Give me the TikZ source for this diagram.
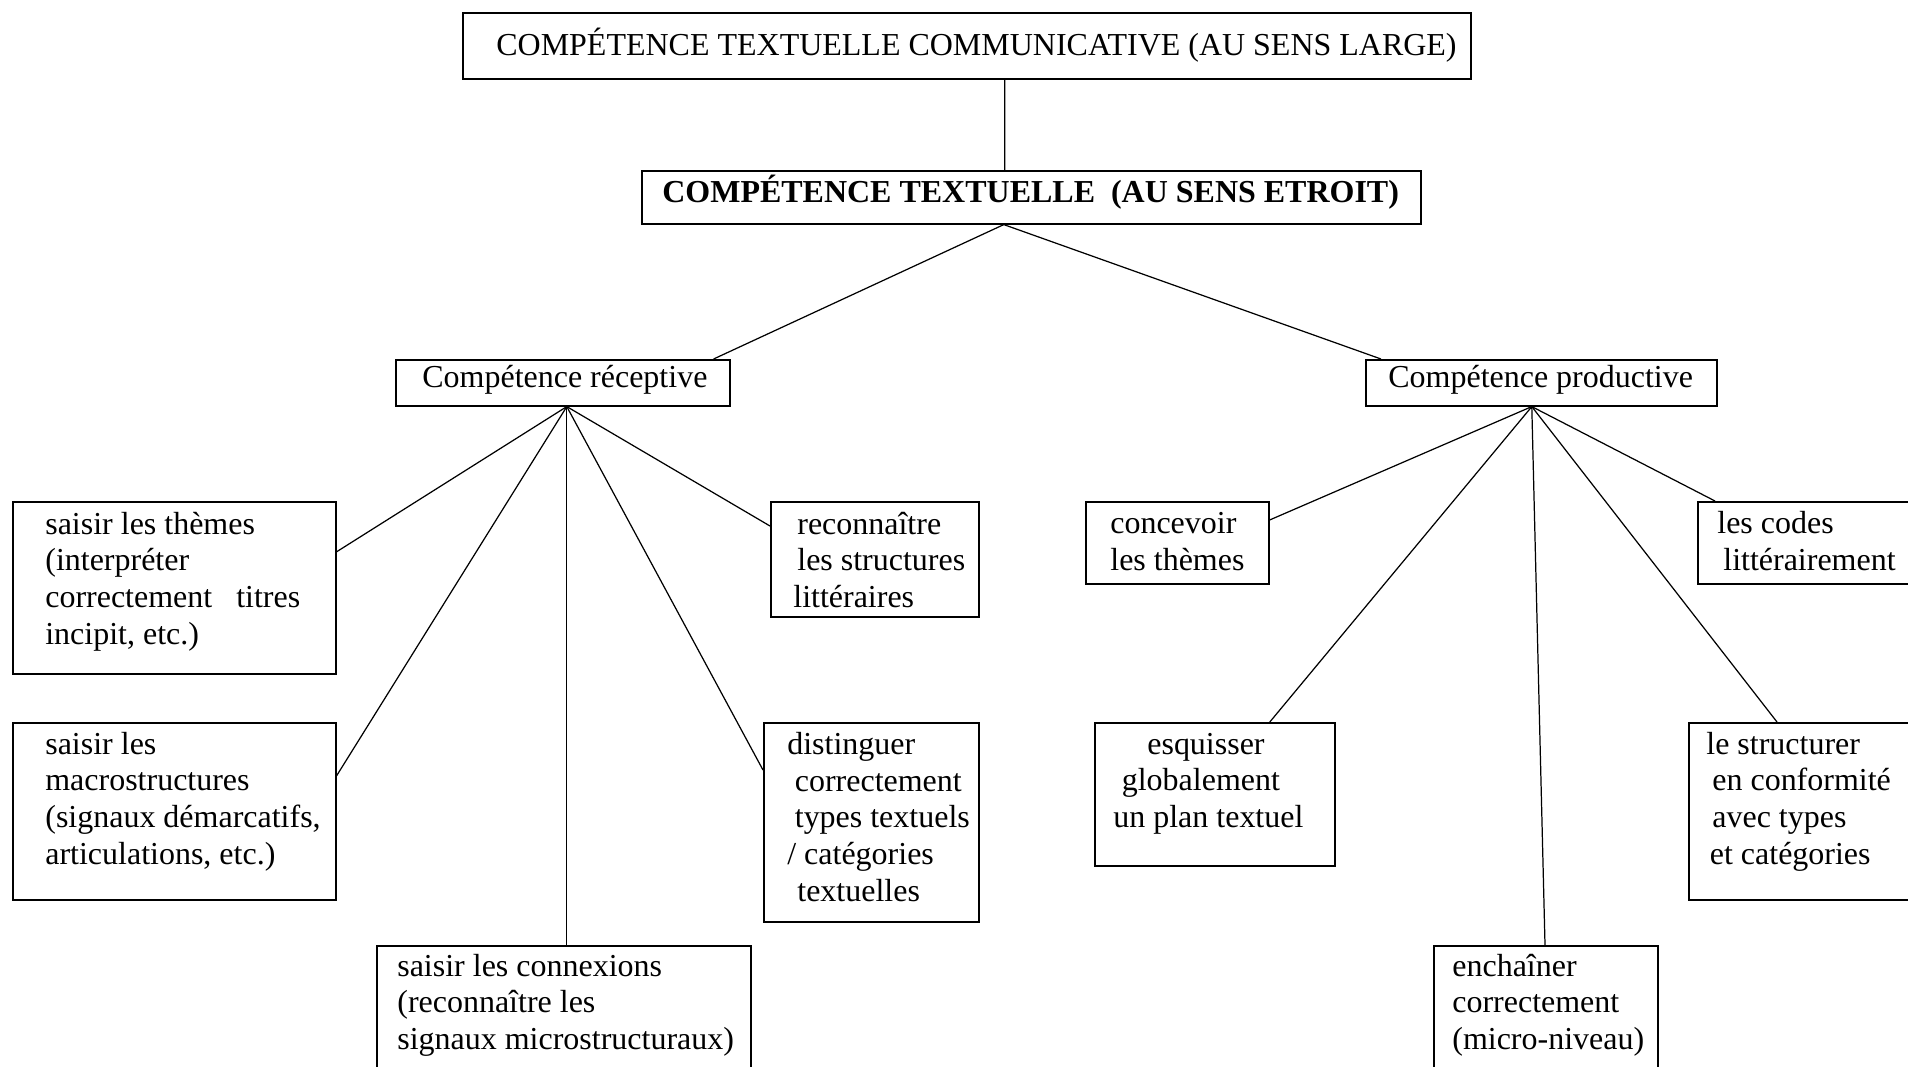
\documentclass[tikz,border=0pt]{standalone}
\usepackage{fontspec}
\setmainfont{Liberation Serif}

\begin{document}
\begin{tikzpicture}[
    box/.style={draw, line width=0.9pt, anchor=north west, inner sep=0pt},
    txt/.style={anchor=base west, align=left, inner sep=0pt, font=\fontsize{18.2}{20.8}\selectfont},
    link/.style={line width=0.7pt}
]
    % Fix the page size
    \useasboundingbox (0,0) rectangle (38.16,-21.32);

    % Draw the boxes
    \node[box, minimum width=20.16cm, minimum height=1.32cm] (large) at (9.24,-0.24) {};
    \node[box, minimum width=15.58cm, minimum height=1.06cm] (narrow) at (12.82,-3.40) {};
    \node[box, minimum width=6.68cm, minimum height=0.92cm] (recep) at (7.90,-7.18) {};
    \node[box, minimum width=7.02cm, minimum height=0.92cm] (prod) at (27.30,-7.18) {};
    \node[box, minimum width=6.46cm, minimum height=3.44cm] (themes) at (0.24,-10.02) {};
    \node[box, minimum width=6.46cm, minimum height=3.54cm] (macro) at (0.24,-14.44) {};
    \node[box, minimum width=7.48cm, minimum height=3.00cm] (connex) at (7.52,-18.90) {};
    \node[box, minimum width=4.16cm, minimum height=2.30cm] (recon) at (15.40,-10.02) {};
    \node[box, minimum width=4.30cm, minimum height=3.98cm] (disting) at (15.26,-14.44) {};
    \node[box, minimum width=3.66cm, minimum height=1.64cm] (concev) at (21.70,-10.02) {};
    \node[box, minimum width=5.00cm, minimum height=1.64cm] (codes) at (33.94,-10.02) {};
    \node[box, minimum width=4.80cm, minimum height=2.86cm] (esquis) at (21.88,-14.44) {};
    \node[box, minimum width=5.00cm, minimum height=3.54cm] (struct) at (33.76,-14.44) {};
    \node[box, minimum width=4.48cm, minimum height=3.00cm] (enchain) at (28.66,-18.90) {};

    % Add the texts (placed at the baseline of their last line)
    \node[txt] (large-t) at (9.92,-1.10) {COMPÉTENCE TEXTUELLE COMMUNICATIVE (AU SENS LARGE)};
    \node[txt, font=\fontsize{18.2}{20.8}\selectfont\bfseries] (narrow-t) at (13.24,-4.04) {COMPÉTENCE TEXTUELLE \ (AU SENS ETROIT)};
    \node[txt] (recep-t) at (8.44,-7.74) {Compétence réceptive};
    \node[txt] (prod-t) at (27.76,-7.74) {Compétence productive};
    \node[txt] (themes-t) at (0.90,-12.88) {saisir les thèmes\\(interpréter\\correctement \ \ titres\\incipit, etc.)};
    \node[txt] (macro-t) at (0.90,-17.28) {saisir les\\macrostructures\\(signaux démarcatifs,\\articulations, etc.)};
    \node[txt] (connex-t) at (7.94,-20.99) {saisir les connexions\\(reconnaître les\\signaux microstructuraux)};
    \node[txt] (recon-t) at (15.86,-12.15) {\hspace*{0.08cm}reconnaître\\\hspace*{0.08cm}les structures\\littéraires};
    \node[txt] (disting-t) at (15.74,-18.02) {distinguer\\\hspace*{0.15cm}correctement\\\hspace*{0.15cm}types textuels\\/ catégories\\\hspace*{0.2cm}textuelles};
    \node[txt] (concev-t) at (22.20,-11.41) {concevoir\\les thèmes};
    \node[txt] (codes-t) at (34.34,-11.41) {les codes\\\hspace*{0.12cm}littérairement};
    \node[txt] (esquis-t) at (22.26,-16.55) {\hspace*{0.68cm}esquisser\\\hspace*{0.17cm}globalement\\un plan textuel};
    \node[txt] (struct-t) at (34.12,-17.28) {le structurer\\\hspace*{0.12cm}en conformité\\\hspace*{0.12cm}avec types\\\hspace*{0.07cm}et catégories};
    \node[txt] (enchain-t) at (29.04,-20.99) {enchaîner\\correctement\\(micro-niveau)};

    % Hubs under the boxes
    \coordinate (nhub) at ([xshift=-0.55cm]narrow.south);
    \coordinate (rhub) at ([xshift=0.08cm]recep.south);
    \coordinate (phub) at ([xshift=-0.19cm]prod.south);

    % Draw the connectors
    \draw[link] ([xshift=0.76cm]large.south) -- ([xshift=-0.53cm]narrow.north);
    \draw[link] (nhub) -- ([xshift=-0.34cm]recep.north east);
    \draw[link] (nhub) -- ([xshift=0.32cm]prod.north west);
    \draw[link] (rhub) -- ([yshift=0.72cm]themes.east);
    \draw[link] (rhub) -- ([yshift=0.71cm]macro.east);
    \draw[link] (rhub) -- (rhub |- connex.north);
    \draw[link] (rhub) -- ([yshift=-0.5cm]recon.north west);
    \draw[link] (rhub) -- ([yshift=-0.96cm]disting.north west);
    \draw[link] (phub) -- ([yshift=-0.38cm]concev.north east);
    \draw[link] (phub) -- ([xshift=0.36cm]codes.north west);
    \draw[link] (phub) -- ([xshift=1.1cm]esquis.north);
    \draw[link] (phub) -- ([xshift=1.78cm]struct.north west);
    \draw[link] (phub) -- ([xshift=2.24cm]enchain.north west);
\end{tikzpicture}
\end{document}
